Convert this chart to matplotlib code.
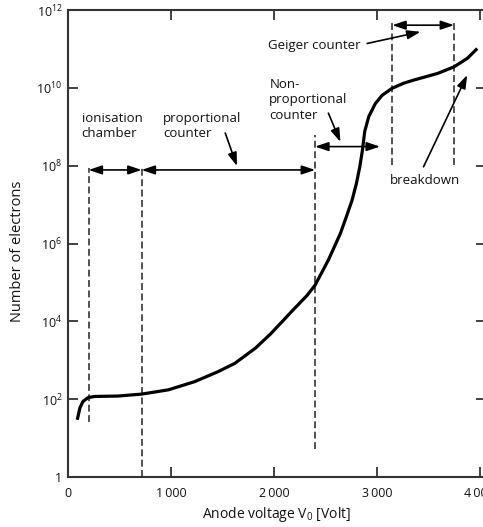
import numpy as np
import matplotlib.pyplot as plt
from matplotlib import rcParams

rcParams['font.family'] = ['Open Sans', 'DejaVu Sans']
rcParams['mathtext.fontset'] = 'custom'
rcParams['mathtext.rm'] = 'Open Sans'
rcParams['mathtext.it'] = 'Open Sans:italic'

# pulse height curve of a gas filled counter: anode voltage [V] vs log10(number of electrons)
voltage = [90, 115, 145, 195, 260, 485, 715, 975, 1230, 1460, 1620, 1820, 1965,
           2090, 2160, 2320, 2400, 2530, 2646, 2704, 2760, 2802, 2834, 2860,
           2882, 2921, 2986, 3052, 3149, 3262, 3359, 3590, 3750, 3880, 3975]
log_electrons = [1.47, 1.77, 1.94, 2.04, 2.07, 2.08, 2.13, 2.24, 2.45, 2.71, 2.92,
                 3.31, 3.67, 4.02, 4.22, 4.66, 4.93, 5.58, 6.26, 6.69, 7.12, 7.55,
                 7.97, 8.40, 8.88, 9.26, 9.60, 9.81, 9.99, 10.12, 10.20, 10.37,
                 10.54, 10.76, 11.01]

# region boundaries (dashed) with their lower/upper extent in log10(N)
bound_v = [200, 715, 2400, 3150, 3750]
bound_lo = [1.42, 0.0, 0.72, 8.02, 8.02]
bound_hi = [7.94, 7.94, 8.79, 11.70, 11.70]

# double headed arrows marking each region
span_start = [200, 715, 2400, 3150]
span_end = [715, 2400, 3030, 3750]
span_level = [7.89, 7.89, 8.49, 11.61]

region_names = ['ionisation\nchamber', 'proportional\ncounter',
                'Non-\nproportional\ncounter', 'Geiger counter', 'breakdown']
name_v = [133, 924, 1955, 1943, 3126]
name_level = [9.02, 9.02, 9.69, 11.10, 7.61]

# pointer arrows from labels: tail (V, log N) -> head (V, log N)
ptr_tail = [(1527, 8.84), (2529, 9.35), (2906, 11.14), (3453, 7.97)]
ptr_head = [(1641, 7.99), (2646, 8.61), (3424, 11.44), (3878, 10.33)]

xticks = [0, 1000, 2000, 3000, 4000]
xtick_labels = ['0', '1\u2009000', '2\u2009000', '3\u2009000', '4\u2009000']
yexp = [0, 2, 4, 6, 8, 10, 12]

fig = plt.figure(figsize=(4.83, 5.27), dpi=100)
ax = fig.add_axes([68/483, 50/527, 418/483, 467/527])

ink = '#333333'
ax.plot(voltage, 10.0**np.array(log_electrons), color='black', lw=2.3,
        solid_capstyle='butt', solid_joinstyle='round', zorder=5)

for v, lo, hi in zip(bound_v, bound_lo, bound_hi):
  ax.plot([v, v], [10.0**lo, 10.0**hi], color='#222222', lw=1.1,
          dashes=(4.5, 2.3), zorder=3)

for a, b, lev in zip(span_start, span_end, span_level):
  ax.annotate('', xy=(b, 10.0**lev), xytext=(a, 10.0**lev),
              arrowprops=dict(arrowstyle='<|-|>,head_length=0.8,head_width=0.27',
                              color='black', lw=1.2, shrinkA=0, shrinkB=0,
                              mutation_scale=10))

for t, h in zip(ptr_tail, ptr_head):
  ax.annotate('', xy=(h[0], 10.0**h[1]), xytext=(t[0], 10.0**t[1]),
              arrowprops=dict(arrowstyle='-|>,head_length=0.8,head_width=0.27',
                              color='black', lw=1.2, shrinkA=0, shrinkB=0,
                              mutation_scale=10))

for s, v, lev in zip(region_names, name_v, name_level):
  ax.text(v, 10.0**lev, s, ha='left', va='center', fontsize=9.5,
          linespacing=1.25, color='#111111')

ax.set_yscale('log')
ax.set_xlim(0, 4060)
ax.set_ylim(1, 1e12)
ax.set_xticks(xticks)
ax.set_xticklabels(xtick_labels)
ax.set_yticks([10.0**e for e in yexp])
ax.set_yticklabels(['1'] + ['$10^{%d}$' % e for e in yexp[1:]])
ax.yaxis.set_minor_locator(plt.NullLocator())
ax.tick_params(direction='in', length=7.2, width=1.3, color=ink, top=True,
               right=True, labelsize=9, labelcolor='#111111')
ax.tick_params(axis='x', pad=7)
ax.tick_params(axis='y', pad=4)
for sp in ax.spines.values():
  sp.set_color(ink)
  sp.set_linewidth(1.5)

ax.set_ylabel('Number of electrons', fontsize=10.5, color='#111111')
ax.yaxis.set_label_coords(-0.103, 0.484)
ax.set_xlabel('Anode voltage V$_0$ [Volt]', fontsize=10, color='#111111', labelpad=4)

fig.savefig('out.png', dpi=100)
